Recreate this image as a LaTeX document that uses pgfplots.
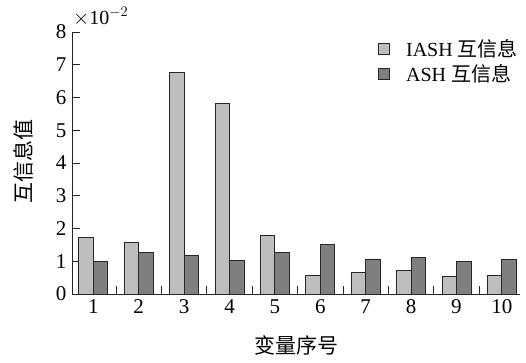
\documentclass[border=0pt]{standalone}
\usepackage{pgfplots}
\pgfplotsset{compat=1.18}
\usepackage{fontspec}
\setmainfont{Liberation Serif}
\newfontfamily\cjk{Noto Sans CJK SC}
\definecolor{lightbar}{HTML}{BEBEBE}
\definecolor{darkbar}{HTML}{7F7F7F}
\begin{document}
\begin{tikzpicture}
\begin{axis}[
  ybar, bar width=14.5pt,
  at={(72pt,69pt)}, anchor=south west,
  scale only axis, width=448pt, height=262pt,
  axis x line*=bottom, axis y line*=left, axis line style={-, line width=0.9pt, black!85},
  xtick pos=bottom, ytick pos=left,
  xmin=0.53, xmax=10.4, ymin=0, ymax=8,
  ytick={0,1,...,8},
  xtick={1.5,2.5,...,9.5}, xticklabels={},
  extra x ticks={1,2,...,10},
  extra x tick style={major tick length=0pt},
  extra x tick labels={1,2,3,4,5,6,7,8,9,10},
  major tick length=7.5pt,
  tick style={line width=0.9pt, black!85},
  /pgf/number format/assume math mode=true,
  tick label style={font=\fontsize{21}{24}\selectfont},
  yticklabel style={xshift=-2pt},
  xticklabel style={yshift=-2pt},
  legend style={draw=none, fill=none, at={(rel axis cs:1,1)}, anchor=north east,
    font=\fontsize{20}{22}\selectfont, row sep=3pt, xshift=3pt, yshift=-3pt,
    legend cell align=left},
  legend image code/.code={\draw[#1, line width=0.7pt] (0pt,-5.5pt) rectangle (11pt,5.5pt);},
  tick align=inside,
]
\addplot[bar shift=-7.25pt, fill=lightbar, draw=black!85, line width=0.9pt] coordinates {
 (1,1.73) (2,1.58) (3,6.76) (4,5.81) (5,1.80) (6,0.56) (7,0.67) (8,0.73) (9,0.53) (10,0.56)};
\addplot[bar shift=7.25pt, fill=darkbar, draw=black!85, line width=0.9pt] coordinates {
 (1,1.00) (2,1.26) (3,1.17) (4,1.01) (5,1.26) (6,1.52) (7,1.07) (8,1.12) (9,1.00) (10,1.06)};
\legend{\hspace{14pt}IASH {\cjk 互信息}, \hspace{14pt}ASH {\cjk 互信息}}
\end{axis}
\node[anchor=south west, inner sep=0pt, font=\fontsize{20}{22}\selectfont] at (73pt,337pt) {$\times$10$^{-2}$};
\node[rotate=90, inner sep=0pt, font=\fontsize{21}{22}\cjk] at (23pt,201pt) {互信息值};
\node[inner sep=0pt, font=\fontsize{21}{22}\cjk] at (296pt,18pt) {变量序号};
\pgfresetboundingbox
\path[use as bounding box] (0pt,0pt) rectangle (526pt,363pt);
\end{tikzpicture}
\end{document}
